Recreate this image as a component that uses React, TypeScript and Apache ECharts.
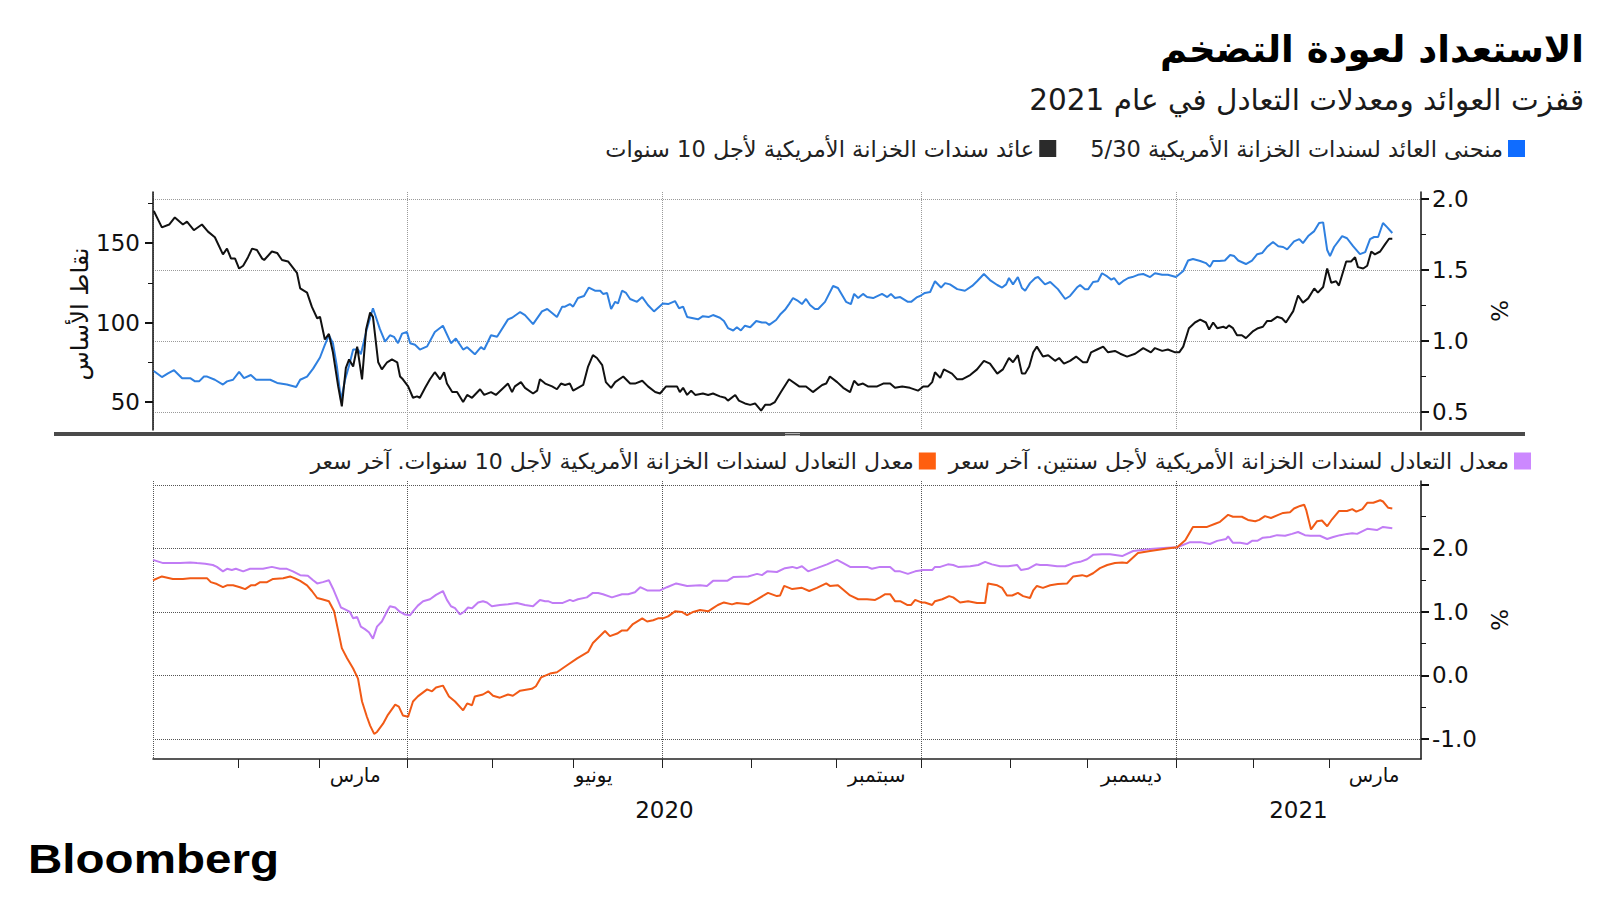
import React, { useEffect, useRef } from 'react';
import * as echarts from 'echarts';

const TITLE = 'الاستعداد لعودة التضخم';
const SUBTITLE = 'قفزت العوائد ومعدلات التعادل في عام 2021';
const NAME_CURVE = 'منحنى العائد لسندات الخزانة الأمريكية 5/30';
const NAME_10Y = 'عائد سندات الخزانة الأمريكية لأجل 10 سنوات';
const NAME_BE2 = 'معدل التعادل لسندات الخزانة الأمريكية لأجل سنتين. آخر سعر';
const NAME_BE10 = 'معدل التعادل لسندات الخزانة الأمريكية لأجل 10 سنوات. آخر سعر';
const LEFT_AXIS_NAME = 'نقاط الأساس';

// x values: trading-day index counted from 2020-01-01
const X_MAX = 313.6;
const monthStarts = [21, 41, 63, 84, 104, 126, 148, 169, 190, 212, 231, 253, 272, 291];
const quarterStarts = [0, 63, 126, 190, 253];
const monthLabelPos = [50, 109, 179, 242, 302];
const monthLabelText = ['مارس', 'يونيو', 'سبتمبر', 'ديسمبر', 'مارس'];
const yearLabelPos = [126.5, 283.3];
const yearLabelText = ['2020', '2021'];

const leftTicks = [50, 100, 150];
const rightTopTicks = [0.5, 1, 1.5, 2];
const rightBottomTicks = [-1, 0, 1, 2, 3];
const rightBottomLabels = [-1, 0, 1, 2];

// 5s30s Treasury curve, basis points (left axis)
const curve530: [number, number][] = [
  [0.2, 69.5], [2.2, 65.7], [3.7, 68], [5.2, 70], [7.2, 65], [9.2, 65], [10.4, 63], [11.4, 63], [12.6, 66], [13.4, 66],
  [15.3, 64], [17.3, 61], [18.3, 63], [19.8, 64], [21.3, 69], [22.5, 65], [24.2, 67], [25.5, 64], [27.0, 64], [29.0, 64],
  [30.7, 62], [33.1, 61], [35.4, 59.5], [36.4, 64], [38.1, 66], [39.6, 71], [41.3, 78], [42.5, 86], [43.5, 92], [44.5, 87],
  [45.5, 72], [46.5, 51], [47.5, 64], [48.5, 73], [49.5, 83], [50.7, 83], [51.4, 80], [52.9, 96], [54.4, 109], [56.1, 96],
  [57.4, 88], [58.6, 92], [59.6, 91], [60.6, 87], [61.6, 93], [62.8, 94], [63.6, 87], [64.8, 86], [66.0, 83], [67.8, 85],
  [69.7, 94], [71.7, 98], [73.7, 87], [74.9, 90], [76.7, 83], [77.7, 84.5], [79.6, 80], [81.1, 84.5], [81.9, 83], [83.6, 92],
  [85.1, 91], [87.8, 102], [88.8, 103], [90.8, 106.6], [92.0, 104.7], [94.0, 99], [96.2, 107], [97.5, 108.5], [99.9, 103.5],
  [101.2, 110], [101.9, 110], [103.1, 111.6], [103.9, 110], [105.1, 115.4], [106.6, 116.7], [107.8, 122], [109.3, 120],
  [110.6, 120], [111.3, 118], [112.3, 118.6], [113.3, 108.5], [114.3, 113], [115.0, 112], [116.0, 120], [117.0, 118.6],
  [118.0, 114.8], [119.7, 113], [121.0, 116], [122.4, 111], [123.9, 107], [126.1, 112], [127.4, 111.6], [129.1, 113.5],
  [130.1, 109], [131.1, 110], [132.1, 103.5], [134.8, 102], [136.0, 104], [137.5, 103.5], [138.5, 104.7], [140.2, 103],
  [141.2, 101], [142.2, 96.5], [143.5, 95], [144.4, 97], [145.4, 95], [146.4, 98], [147.7, 97], [149.2, 101], [150.6, 100],
  [151.6, 100], [152.4, 98.5], [154.1, 101.6], [155.1, 105], [156.3, 108], [157.3, 111.6], [158.3, 115.4], [159.3, 114],
  [160.5, 111.6], [161.5, 114.8], [162.5, 111], [163.7, 108.5], [164.5, 108.5], [166.2, 113], [168.2, 123], [169.4, 121.7],
  [171.4, 113], [172.6, 111.6], [173.4, 118], [174.4, 115.4], [175.6, 118], [176.6, 116], [178.1, 115.4], [180.3, 118],
  [181.6, 116], [182.5, 118], [183.5, 115.4], [184.8, 116], [186.7, 113], [187.5, 113], [189.0, 116], [189.7, 116.7],
  [190.9, 118.6], [192.2, 119.2], [193.4, 126], [194.9, 122], [195.9, 124.8], [197.1, 124], [198.9, 121], [200.8, 120],
  [202.6, 123], [203.8, 126], [205.5, 130.5], [207.0, 126.7], [208.8, 123.6], [210.0, 122], [211.0, 124], [211.7, 128],
  [212.7, 124], [213.9, 128.6], [214.9, 121.7], [215.7, 120], [216.9, 124.8], [218.2, 128], [218.9, 128.6], [220.6, 124],
  [221.9, 125.5], [223.8, 121], [225.6, 114.8], [226.8, 116.7], [228.5, 122], [229.3, 123.6], [230.5, 121], [231.3, 121],
  [232.5, 125.5], [233.7, 126], [234.7, 131], [236.0, 129], [237.0, 127], [237.7, 128], [238.9, 124], [239.9, 126],
  [241.2, 128], [242.2, 128.6], [243.6, 130], [244.9, 130.5], [246.6, 128.6], [247.8, 131], [249.6, 130], [251.0, 130],
  [253.0, 128.6], [254.8, 132.4], [256.0, 139], [257.2, 140], [259.0, 138.7], [260.4, 137.4], [261.4, 135], [262.2, 138.7],
  [263.7, 138.7], [265.1, 139], [266.4, 142.5], [267.4, 141.8], [268.4, 139], [270.3, 136.8], [271.8, 139], [273.1, 143],
  [274.3, 143.7], [275.5, 147.5], [277.0, 150.6], [278.3, 148], [279.5, 147.5], [280.5, 146], [282.2, 151], [283.5, 152.5],
  [284.4, 150], [285.7, 154.4], [287.2, 157.5], [288.4, 162.6], [289.4, 163], [290.4, 145.6], [291.1, 141.8], [292.1, 147.5],
  [294.1, 154.4], [295.3, 153], [296.8, 148], [298.5, 143], [299.8, 144.3], [301.0, 152.5], [302.0, 153.8], [303.0, 153.8],
  [304.2, 162.6], [305.2, 160], [306.5, 156.3],
];

// 10-year Treasury yield, % (right axis)
const yield10y: [number, number][] = [
  [0.2, 1.915], [2.2, 1.80], [4.0, 1.82], [5.4, 1.87], [7.4, 1.82], [8.4, 1.84], [10.1, 1.78], [12.1, 1.82], [13.6, 1.77],
  [15.3, 1.73], [17.3, 1.61], [18.3, 1.65], [19.3, 1.58], [20.3, 1.58], [21.3, 1.51], [22.3, 1.53], [23.5, 1.59], [24.5, 1.65],
  [25.7, 1.64], [27.0, 1.58], [27.5, 1.57], [29.4, 1.63], [30.7, 1.62], [31.9, 1.57], [33.4, 1.56], [35.6, 1.48], [36.4, 1.37],
  [38.1, 1.34], [39.3, 1.24], [40.6, 1.16], [41.3, 1.17], [42.5, 1.01], [43.5, 1.05], [44.5, 0.92], [45.8, 0.68], [46.7, 0.54],
  [47.7, 0.81], [48.5, 0.87], [49.5, 0.82], [50.5, 0.96], [51.7, 0.73], [52.7, 1.08], [53.7, 1.20], [54.4, 1.17], [55.7, 0.85],
  [56.6, 0.80], [57.9, 0.85], [59.1, 0.87], [60.4, 0.85], [61.1, 0.75], [61.8, 0.73], [63.1, 0.68], [64.3, 0.60], [65.3, 0.61],
  [66.0, 0.60], [67.3, 0.67], [68.5, 0.73], [69.7, 0.78], [71.0, 0.73], [72.0, 0.78], [72.7, 0.70], [74.0, 0.64], [75.2, 0.64],
  [76.7, 0.57], [77.7, 0.62], [78.9, 0.60], [80.9, 0.66], [81.9, 0.62], [83.6, 0.64], [84.8, 0.62], [86.3, 0.66], [87.8, 0.70],
  [88.8, 0.64], [89.5, 0.68], [91.0, 0.71], [92.0, 0.67], [94.0, 0.63], [95.0, 0.65], [95.7, 0.73], [97.0, 0.70], [98.7, 0.68],
  [99.9, 0.66], [100.9, 0.70], [101.9, 0.69], [103.1, 0.70], [103.9, 0.65], [105.1, 0.67], [106.4, 0.69], [107.6, 0.82],
  [108.8, 0.90], [109.8, 0.88], [111.1, 0.83], [112.0, 0.71], [113.3, 0.67], [114.3, 0.71], [116.3, 0.75], [118.0, 0.70],
  [119.2, 0.70], [121.0, 0.72], [122.4, 0.68], [124.2, 0.64], [125.4, 0.63], [126.9, 0.68], [128.4, 0.68], [129.6, 0.68],
  [130.3, 0.64], [131.1, 0.67], [132.1, 0.62], [133.1, 0.65], [134.1, 0.62], [136.0, 0.63], [137.3, 0.62], [138.5, 0.63],
  [140.2, 0.61], [141.5, 0.60], [142.2, 0.58], [144.0, 0.62], [144.9, 0.58], [146.4, 0.56], [147.7, 0.55], [148.9, 0.56],
  [150.4, 0.51], [151.4, 0.55], [152.6, 0.55], [153.8, 0.57], [155.3, 0.64], [157.3, 0.73], [159.8, 0.68], [161.5, 0.68],
  [163.2, 0.64], [165.5, 0.69], [166.5, 0.70], [167.4, 0.75], [169.2, 0.71], [170.7, 0.67], [172.4, 0.64], [173.4, 0.72],
  [174.4, 0.69], [175.6, 0.70], [176.8, 0.68], [179.1, 0.68], [180.6, 0.70], [182.3, 0.70], [183.5, 0.67], [185.3, 0.68],
  [187.2, 0.67], [189.2, 0.65], [190.5, 0.68], [191.7, 0.68], [192.7, 0.71], [193.4, 0.78], [194.7, 0.74], [195.6, 0.80],
  [197.6, 0.77], [198.9, 0.73], [200.1, 0.73], [202.1, 0.76], [203.8, 0.80], [205.5, 0.86], [207.0, 0.84], [208.8, 0.77],
  [210.2, 0.80], [211.7, 0.88], [212.7, 0.85], [213.9, 0.90], [214.9, 0.77], [215.7, 0.77], [216.7, 0.82], [217.7, 0.92],
  [218.6, 0.96], [220.1, 0.89], [221.4, 0.90], [223.1, 0.86], [224.1, 0.88], [225.3, 0.84], [226.8, 0.86], [228.3, 0.89],
  [230.0, 0.85], [231.0, 0.85], [232.0, 0.92], [233.5, 0.94], [235.0, 0.96], [236.2, 0.92], [237.9, 0.93], [239.2, 0.91],
  [240.9, 0.89], [242.9, 0.91], [244.9, 0.95], [246.8, 0.92], [247.8, 0.95], [249.6, 0.93], [251.0, 0.94], [252.8, 0.92],
  [253.8, 0.92], [254.8, 0.96], [256.2, 1.09], [257.7, 1.13], [259.0, 1.15], [260.4, 1.13], [261.2, 1.08], [262.2, 1.13],
  [263.2, 1.09], [264.7, 1.10], [265.4, 1.09], [266.1, 1.11], [267.1, 1.09], [268.1, 1.04], [269.3, 1.04], [270.3, 1.02],
  [272.1, 1.07], [273.3, 1.09], [274.5, 1.10], [275.5, 1.14], [276.5, 1.14], [278.0, 1.17], [279.2, 1.16], [280.2, 1.13],
  [282.0, 1.21], [283.2, 1.32], [284.4, 1.27], [285.7, 1.30], [287.2, 1.37], [288.1, 1.34], [289.4, 1.38], [290.4, 1.51],
  [291.4, 1.41], [292.6, 1.42], [293.3, 1.39], [295.1, 1.56], [296.3, 1.56], [297.3, 1.59], [298.0, 1.52], [299.3, 1.51],
  [300.3, 1.53], [301.3, 1.63], [302.2, 1.61], [303.5, 1.63], [304.7, 1.68], [305.7, 1.72], [306.5, 1.72],
];

// 2-year breakeven, % (purple)
const breakeven2y: [number, number][] = [
  [0, 1.82], [2.5, 1.77], [6.7, 1.77], [9.2, 1.78], [10.9, 1.77], [12.9, 1.76], [14.8, 1.74], [15.8, 1.71], [17.3, 1.64],
  [18.3, 1.68], [19.5, 1.66], [20.5, 1.68], [22.3, 1.64], [24.0, 1.68], [27.2, 1.68], [29.4, 1.71], [31.4, 1.68], [33.1, 1.68],
  [34.6, 1.64], [36.4, 1.58], [38.3, 1.57], [39.6, 1.50], [40.6, 1.45], [42.0, 1.47], [43.5, 1.50], [44.5, 1.37], [46.5, 1.07],
  [47.5, 1.04], [48.7, 1.00], [49.5, 0.90], [50.5, 0.92], [51.4, 0.77], [52.4, 0.73], [53.4, 0.68], [54.4, 0.58], [55.4, 0.77],
  [56.6, 0.85], [57.9, 1.01], [58.6, 1.09], [59.9, 1.07], [61.1, 1.00], [62.3, 0.96], [63.6, 0.95], [64.3, 1.01], [65.5, 1.10],
  [66.8, 1.17], [68.5, 1.20], [70.0, 1.27], [71.7, 1.33], [72.7, 1.19], [73.7, 1.09], [74.7, 1.06], [75.9, 0.96], [76.9, 1.00],
  [77.9, 1.07], [78.9, 1.06], [80.4, 1.15], [81.6, 1.17], [82.6, 1.15], [83.8, 1.09], [85.8, 1.11], [87.8, 1.12], [90.0, 1.14],
  [92.0, 1.11], [94.0, 1.09], [95.7, 1.19], [97.0, 1.17], [97.7, 1.17], [98.9, 1.14], [101.2, 1.14], [103.1, 1.19], [103.9, 1.17],
  [105.1, 1.20], [107.3, 1.23], [108.8, 1.30], [110.1, 1.30], [111.3, 1.28], [113.5, 1.23], [116.0, 1.28], [117.5, 1.28],
  [119.2, 1.31], [120.5, 1.39], [122.2, 1.34], [125.4, 1.34], [127.1, 1.39], [129.4, 1.45], [132.1, 1.41], [135.3, 1.42],
  [137.0, 1.41], [138.5, 1.49], [142.0, 1.49], [143.5, 1.55], [147.2, 1.56], [149.4, 1.60], [150.6, 1.58], [151.9, 1.64],
  [154.3, 1.63], [156.3, 1.69], [158.1, 1.71], [159.3, 1.69], [160.5, 1.72], [162.0, 1.64], [164.2, 1.69], [166.7, 1.75],
  [169.2, 1.82], [170.7, 1.77], [172.4, 1.71], [176.6, 1.71], [177.8, 1.68], [179.8, 1.71], [182.3, 1.71], [183.5, 1.64],
  [184.8, 1.64], [186.7, 1.60], [188.5, 1.64], [190.5, 1.66], [192.7, 1.66], [193.4, 1.71], [194.7, 1.71], [196.6, 1.75],
  [197.9, 1.74], [199.1, 1.71], [202.1, 1.72], [204.1, 1.74], [205.8, 1.79], [207.5, 1.75], [209.5, 1.72], [211.5, 1.72],
  [213.7, 1.74], [214.7, 1.66], [216.4, 1.68], [218.4, 1.75], [219.4, 1.74], [221.1, 1.74], [223.6, 1.72], [225.6, 1.72],
  [227.6, 1.77], [229.3, 1.79], [231.0, 1.83], [232.5, 1.90], [234.7, 1.91], [236.7, 1.91], [239.7, 1.88], [242.4, 1.96],
  [246.6, 1.99], [250.8, 2.01], [253.3, 2.02], [256.5, 2.10], [259.0, 2.10], [261.4, 2.07], [263.2, 2.12], [265.4, 2.15],
  [265.9, 2.19], [267.1, 2.09], [268.9, 2.09], [270.6, 2.07], [271.8, 2.12], [273.1, 2.12], [274.5, 2.17], [276.3, 2.18],
  [278.0, 2.21], [280.0, 2.20], [281.7, 2.23], [283.2, 2.26], [284.9, 2.21], [286.2, 2.20], [288.6, 2.20], [290.4, 2.15],
  [291.9, 2.18], [293.6, 2.21], [295.3, 2.23], [296.6, 2.24], [297.8, 2.23], [300.3, 2.31], [302.7, 2.29], [304.2, 2.34],
  [306.5, 2.32],
];

// 10-year breakeven, % (orange)
const breakeven10y: [number, number][] = [
  [0, 1.50], [2.2, 1.56], [4.9, 1.52], [7.4, 1.52], [9.2, 1.53], [13.4, 1.53], [14.3, 1.47], [15.8, 1.44], [17.3, 1.39],
  [18.3, 1.42], [19.8, 1.42], [21.5, 1.39], [22.8, 1.36], [24.2, 1.42], [25.2, 1.42], [26.5, 1.47], [28.2, 1.47], [29.7, 1.52],
  [32.2, 1.53], [33.9, 1.56], [35.1, 1.53], [36.4, 1.49], [38.1, 1.42], [39.3, 1.33], [40.6, 1.22], [41.8, 1.20], [43.5, 1.17],
  [44.8, 1.01], [46.7, 0.43], [48.0, 0.27], [49.5, 0.11], [50.7, -0.05], [51.7, -0.41], [52.9, -0.65], [53.7, -0.79],
  [54.7, -0.92], [55.4, -0.89], [56.9, -0.76], [58.1, -0.62], [59.9, -0.46], [60.8, -0.49], [61.8, -0.63], [63.1, -0.65],
  [64.3, -0.41], [65.5, -0.33], [67.8, -0.22], [69.0, -0.25], [70.0, -0.19], [71.7, -0.16], [73.2, -0.33], [74.7, -0.41],
  [76.7, -0.55], [77.7, -0.44], [78.9, -0.47], [79.6, -0.33], [81.6, -0.30], [82.9, -0.25], [84.1, -0.32], [85.8, -0.35],
  [87.8, -0.30], [89.0, -0.32], [90.8, -0.24], [93.7, -0.21], [94.7, -0.17], [96.0, -0.03], [98.2, 0.03], [99.9, 0.05],
  [102.4, 0.16], [104.9, 0.27], [107.6, 0.37], [108.8, 0.51], [111.8, 0.70], [113.0, 0.62], [114.8, 0.66], [116.0, 0.71],
  [117.3, 0.71], [118.7, 0.81], [121.0, 0.90], [122.2, 0.85], [123.7, 0.87], [124.9, 0.90], [126.1, 0.90], [127.4, 0.93],
  [129.1, 1.01], [130.8, 1.00], [132.1, 0.95], [133.6, 1.00], [135.3, 1.03], [137.3, 1.01], [138.5, 1.06], [139.7, 1.11],
  [141.2, 1.15], [143.2, 1.12], [144.4, 1.14], [147.2, 1.12], [149.4, 1.20], [152.1, 1.30], [154.3, 1.25], [155.1, 1.26],
  [156.1, 1.41], [158.1, 1.36], [160.5, 1.38], [162.3, 1.33], [164.2, 1.38], [166.5, 1.45], [167.4, 1.41], [169.4, 1.42],
  [172.4, 1.26], [174.4, 1.20], [176.6, 1.20], [178.6, 1.19], [179.8, 1.23], [181.1, 1.28], [182.3, 1.28], [183.5, 1.17],
  [184.8, 1.17], [186.5, 1.11], [187.5, 1.11], [188.5, 1.19], [190.0, 1.15], [190.9, 1.15], [192.7, 1.11], [193.4, 1.17],
  [195.2, 1.20], [196.9, 1.25], [197.9, 1.23], [199.6, 1.15], [201.6, 1.17], [203.8, 1.14], [205.8, 1.14], [206.5, 1.45],
  [208.8, 1.42], [210.0, 1.38], [211.2, 1.26], [212.5, 1.26], [213.9, 1.30], [215.2, 1.25], [216.9, 1.22], [217.7, 1.34],
  [218.6, 1.41], [220.1, 1.38], [221.9, 1.42], [223.8, 1.44], [226.1, 1.45], [227.6, 1.56], [229.8, 1.58], [231.0, 1.56],
  [232.5, 1.61], [234.2, 1.69], [236.0, 1.74], [237.9, 1.77], [239.7, 1.78], [240.9, 1.77], [243.6, 1.93], [246.6, 1.96],
  [250.8, 2.00], [253.3, 2.02], [255.3, 2.13], [257.2, 2.34], [259.0, 2.34], [260.7, 2.34], [262.7, 2.39], [263.9, 2.42],
  [265.9, 2.53], [267.1, 2.50], [269.3, 2.50], [270.8, 2.45], [272.6, 2.43], [273.6, 2.45], [275.0, 2.51], [276.5, 2.48],
  [278.3, 2.53], [279.5, 2.56], [281.2, 2.57], [282.2, 2.63], [283.7, 2.67], [284.7, 2.69], [285.2, 2.61], [286.4, 2.30],
  [287.9, 2.43], [289.1, 2.44], [290.4, 2.35], [291.6, 2.46], [293.3, 2.59], [295.3, 2.59], [296.6, 2.62], [297.6, 2.58],
  [299.1, 2.62], [300.3, 2.72], [301.8, 2.72], [303.5, 2.76], [304.2, 2.74], [305.5, 2.64], [306.5, 2.63],
];

const FONT = '"DejaVu Sans", sans-serif';
const BLUE = '#2f80e0';
const BLACK = '#111111';
const PURPLE = '#c17cf5';
const ORANGE = '#f15a16';

function pick(values: number[], labels: string[]) {
  return (v: number) => {
    const i = values.findIndex((p) => Math.abs(p - v) < 0.01);
    return i >= 0 ? labels[i] : '';
  };
}

function buildOption(): any {
  const baseX = { type: 'value', min: 0, max: X_MAX };
  const noLine = { show: false, onZero: false };
  return {
    animation: false,
    backgroundColor: '#ffffff',
    title: [
      {
        text: TITLE, right: 16, top: 31, padding: 0,
        textStyle: { fontFamily: FONT, fontWeight: 'bold', fontSize: 37, color: '#000' },
      },
      {
        text: SUBTITLE, right: 16, top: 85, padding: 0,
        textStyle: { fontFamily: FONT, fontWeight: 'normal', fontSize: 29.5, color: '#1a1a1a' },
      },
    ],
    legend: [
      {
        data: [
          { name: NAME_10Y, itemStyle: { color: '#2b2b2b' } },
          { name: NAME_CURVE, itemStyle: { color: '#0f6cff' } },
        ],
        right: 75, top: 137, padding: 0, align: 'right', icon: 'rect', itemWidth: 17, itemHeight: 17, itemGap: 34,
        selectedMode: false, textStyle: { fontFamily: FONT, fontSize: 22.5, color: '#222' },
      },
      {
        data: [
          { name: NAME_BE10, itemStyle: { color: '#ff5f0f' } },
          { name: NAME_BE2, itemStyle: { color: '#cc88ff' } },
        ],
        right: 69, top: 450, padding: 0, align: 'right', icon: 'rect', itemWidth: 17, itemHeight: 17, itemGap: 13,
        selectedMode: false, textStyle: { fontFamily: FONT, fontSize: 22, color: '#222' },
      },
    ],
    grid: [
      { left: 153, right: 179, top: 192, height: 238 },
      { left: 153, right: 179, top: 481, height: 278 },
    ],
    xAxis: [
      {
        ...baseX, gridIndex: 0,
        axisLine: noLine,
        axisTick: { show: false, customValues: quarterStarts },
        axisLabel: { show: false },
        splitLine: { show: true, lineStyle: { type: 'dotted', color: '#9a9a9a', width: 1 } },
      },
      {
        ...baseX, gridIndex: 1, position: 'bottom',
        axisLine: { show: true, onZero: false, lineStyle: { color: '#222', width: 1.5 } },
        axisTick: { show: false, customValues: quarterStarts },
        axisLabel: { show: false },
        splitLine: { show: true, lineStyle: { type: 'dotted', color: '#555', width: 1 } },
      },
      {
        ...baseX, gridIndex: 1, position: 'bottom',
        axisLine: noLine,
        axisTick: { show: true, customValues: monthStarts, length: 9, lineStyle: { color: '#222', width: 1 } },
        axisLabel: {
          show: true, customValues: monthLabelPos, formatter: pick(monthLabelPos, monthLabelText),
          margin: 6, fontFamily: FONT, fontSize: 20, color: '#111',
        },
        splitLine: { show: false },
      },
      {
        ...baseX, gridIndex: 1, position: 'bottom',
        axisLine: noLine,
        axisTick: { show: false },
        axisLabel: {
          show: true, customValues: yearLabelPos, formatter: pick(yearLabelPos, yearLabelText),
          margin: 39, fontFamily: FONT, fontSize: 23, color: '#111',
        },
        splitLine: { show: false },
      },
    ],
    yAxis: [
      {
        type: 'value', gridIndex: 0, position: 'left', min: 32.4, max: 182.1, splitNumber: 3,
        axisLine: { show: true, onZero: false, lineStyle: { color: '#111', width: 1.5 } },
        axisTick: { show: true, customValues: leftTicks, length: 8, lineStyle: { color: '#111', width: 2 } },
        minorTick: { show: true, splitNumber: 2, length: 5, lineStyle: { color: '#111', width: 1 } },
        axisLabel: { customValues: leftTicks, margin: 13, fontFamily: FONT, fontSize: 23, color: '#111' },
        splitLine: { show: false },
      },
      {
        type: 'value', gridIndex: 0, position: 'right', min: 0.373, max: 2.049, splitNumber: 4,
        name: '%', nameLocation: 'middle', nameGap: 66, nameRotate: -90,
        nameTextStyle: { fontFamily: FONT, fontSize: 23, color: '#111' },
        axisLine: { show: true, onZero: false, lineStyle: { color: '#111', width: 1.5 } },
        axisTick: { show: true, customValues: rightTopTicks, length: 8, lineStyle: { color: '#111', width: 2 } },
        minorTick: { show: true, splitNumber: 2, length: 5, lineStyle: { color: '#111', width: 1 } },
        axisLabel: {
          customValues: rightTopTicks, margin: 11, fontFamily: FONT, fontSize: 23, color: '#111',
          formatter: (v: number) => v.toFixed(1),
        },
        splitLine: { show: true, lineStyle: { type: 'dotted', color: '#9a9a9a', width: 1 } },
      },
      {
        type: 'value', gridIndex: 1, position: 'right', min: -1.316, max: 3.063, splitNumber: 4,
        name: '%', nameLocation: 'middle', nameGap: 66, nameRotate: -90,
        nameTextStyle: { fontFamily: FONT, fontSize: 23, color: '#111' },
        axisLine: { show: true, onZero: false, lineStyle: { color: '#111', width: 1.5 } },
        axisTick: { show: true, customValues: rightBottomTicks, length: 8, lineStyle: { color: '#111', width: 2 } },
        minorTick: { show: true, splitNumber: 2, length: 5, lineStyle: { color: '#111', width: 1 } },
        axisLabel: {
          customValues: rightBottomLabels, margin: 11, fontFamily: FONT, fontSize: 23, color: '#111',
          formatter: (v: number) => v.toFixed(1),
        },
        splitLine: { show: true, lineStyle: { type: 'dotted', color: '#555', width: 1 } },
      },
    ],
    series: [
      {
        type: 'line', name: NAME_CURVE, xAxisIndex: 0, yAxisIndex: 0, data: curve530,
        symbol: 'none', showSymbol: false, lineStyle: { width: 2, color: BLUE }, itemStyle: { color: BLUE }, z: 3,
      },
      {
        type: 'line', name: NAME_10Y, xAxisIndex: 0, yAxisIndex: 1, data: yield10y,
        symbol: 'none', showSymbol: false, lineStyle: { width: 2, color: BLACK }, itemStyle: { color: BLACK }, z: 4,
      },
      {
        type: 'line', name: NAME_BE2, xAxisIndex: 1, yAxisIndex: 2, data: breakeven2y,
        symbol: 'none', showSymbol: false, lineStyle: { width: 2, color: PURPLE }, itemStyle: { color: PURPLE }, z: 3,
      },
      {
        type: 'line', name: NAME_BE10, xAxisIndex: 1, yAxisIndex: 2, data: breakeven10y,
        symbol: 'none', showSymbol: false, lineStyle: { width: 2, color: ORANGE }, itemStyle: { color: ORANGE }, z: 4,
      },
    ],
    graphic: [
      { type: 'rect', z: 50, shape: { x: 54, y: 432, width: 1471, height: 4 }, style: { fill: '#4a4a4a' } },
      { type: 'rect', z: 51, shape: { x: 785, y: 433, width: 15, height: 1 }, style: { fill: '#b5b5b5' } },
      { type: 'rect', z: 51, shape: { x: 785, y: 435, width: 15, height: 1 }, style: { fill: '#b5b5b5' } },
      {
        type: 'text', z: 50, x: 80, y: 314, rotation: Math.PI / 2,
        style: {
          text: LEFT_AXIS_NAME, font: '24px "DejaVu Sans", sans-serif', fill: '#111',
          align: 'center', verticalAlign: 'middle',
        },
      },
      {
        type: 'text', z: 50, x: 28, y: 838, scaleX: 1.16,
        style: {
          text: 'Bloomberg', font: 'bold 41px "Liberation Sans", Arial, sans-serif', fill: '#000',
          verticalAlign: 'top', align: 'left',
        },
      },
    ],
  };
}

export default function App() {
  const ref = useRef<HTMLDivElement>(null);
  useEffect(() => {
    if (!ref.current) return;
    const chart = echarts.init(ref.current, null, { renderer: 'svg' });
    chart.setOption(buildOption());
    return () => chart.dispose();
  }, []);
  return (
    <div
      ref={ref}
      style={{ position: 'fixed', left: 0, top: 0, width: 1600, height: 900, background: '#fff' }}
    />
  );
}
